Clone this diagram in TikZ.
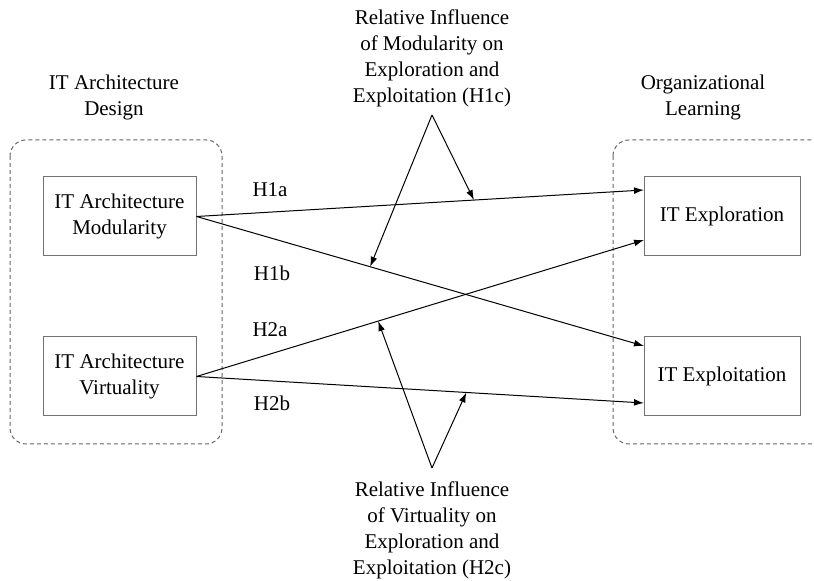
\documentclass[tikz,border=0pt]{standalone}
\usepackage{fontspec}
\setmainfont{Liberation Serif}
\usetikzlibrary{positioning, arrows.meta}

\tikzset{
	construct/.style={draw=black!55, line width=0.5pt, minimum width=76.5pt, minimum height=39.5pt, align=center, inner sep=2pt},
	group/.style={draw=black!60, dash pattern=on 2pt off 1.5pt, rounded corners=8pt, line width=0.5pt},
	hyp/.style={-{Latex[length=5pt,width=3.4pt]}, line width=0.5pt},
	caption/.style={align=center, inner sep=0pt}
}

\begin{document}
\begin{tikzpicture}[x=0.5pt, y=-0.5pt, font=\fontsize{10.5}{13}\selectfont]
	\useasboundingbox (0,0) rectangle (814,581);
	
	% Groups
	\draw[group] (10,140) rectangle (222,444);
	\draw[group] (613,140) rectangle (850,444);
	
	% Constructs
	\node[construct] (mod) at (119.5,216.5) {IT Architecture\\Modularity};
	\node[construct, below = 40pt of mod] (virt) {IT Architecture\\Virtuality};
	\node[construct, minimum width=78pt] (explor) at (722,216.5) {IT Exploration};
	\node[construct, minimum width=78pt, below = 40pt of explor] (exploit) {IT Exploitation};
	
	% Group titles
	\node[caption] (design) at (114,97) {IT Architecture\\Design};
	\node[caption] (learning) at (703,97) {Organizational\\Learning};
	
	% Moderators
	\node[caption] (topinf) at (432,58) {Relative Influence\\of Modularity on\\Exploration and\\Exploitation (H1c)};
	\node[caption] (botinf) at (432,530) {Relative Influence\\of Virtuality on\\Exploration and\\Exploitation (H2c)};
	\coordinate (topapex) at (432,115);
	\coordinate (botapex) at (432,468);
	
	% Arrow ends on the outcomes
	\coordinate (e1) at (644,190);
	\coordinate (e2) at (644,240);
	\coordinate (x1) at (644,346);
	\coordinate (x2) at (644,403);
	
	% Hypotheses
	\draw[hyp] (mod.east) -- coordinate[pos=0.62] (h1a) (e1);
	\draw[hyp] (mod.east) -- coordinate[pos=0.388] (h1b) (x1);
	\draw[hyp] (virt.east) -- coordinate[pos=0.406] (h2a) (e2);
	\draw[hyp] (virt.east) -- coordinate[pos=0.603] (h2b) (x2);
	
	\node at (270,190) {H1a};
	\node at (272,273) {H1b};
	\node at (270,330) {H2a};
	\node at (272,403) {H2b};
	
	% Moderating effects
	\draw[hyp] (topapex) -- (h1a);
	\draw[hyp] (topapex) -- (h1b);
	\draw[hyp] (botapex) -- (h2a);
	\draw[hyp] (botapex) -- (h2b);
\end{tikzpicture}
\end{document}
